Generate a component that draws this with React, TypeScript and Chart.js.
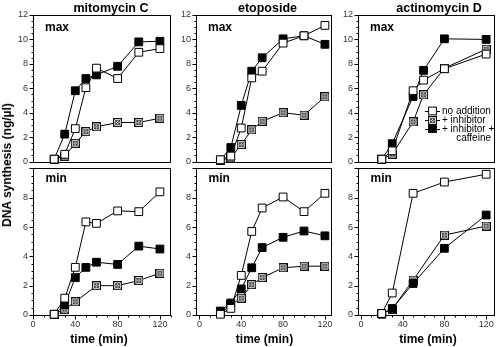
import React, { useEffect, useRef } from 'react';
import { Chart, registerables } from 'chart.js';

Chart.register(...registerables);

const FONT = '"Liberation Sans", Arial, Helvetica, sans-serif';

// ---------- data ----------
const timesMito = [20, 30, 40, 50, 60, 80, 100, 120];
const timesEto = [20, 30, 40, 50, 60, 80, 100, 120];
const timesActMax = [20, 30, 50, 60, 80, 120];
const timesActMin = [20, 30, 50, 80, 120];

const mitoMaxNone = [0.2, 0.6, 2.7, 6.05, 7.65, 6.8, 8.95, 9.25];
const mitoMaxInhib = [0.2, 0.45, 1.5, 2.45, 2.85, 3.2, 3.2, 3.55];
const mitoMaxCaff = [0.2, 2.25, 5.8, 6.8, 7.1, 7.8, 9.8, 9.85];

const mitoMinNone = [0.05, 1.15, 3.25, 6.35, 6.25, 7.1, 7.05, 8.4];
const mitoMinInhib = [0.05, 0.4, 0.9, null, 2.0, 2.0, 2.35, 2.85];
const mitoMinCaff = [0.05, 0.7, 2.55, 3.25, 3.6, 3.45, 4.7, 4.5];

const etoMaxNone = [0.15, 0.45, 2.75, 6.85, 7.4, 9.7, 10.3, 11.15];
const etoMaxInhib = [0.1, 0.3, 1.4, 2.6, 3.3, 4.0, 3.8, 5.3];
const etoMaxCaff = [0.13, 1.15, 4.6, 7.4, 8.5, 10.05, 10.3, 9.6];

const etoMinNone = [0.05, 0.45, 2.7, 5.7, 7.3, 8.05, 7.05, 8.3];
const etoMinInhib = [0.1, 0.7, 1.15, 2.07, 2.55, 3.22, 3.33, 3.33];
const etoMinCaff = [0.27, 0.82, 1.78, 3.22, 4.6, 5.3, 5.73, 5.4];

const actMaxNone = [0.2, 0.88, 5.8, 6.67, 7.6, 8.8];
const actMaxInhib = [0.2, 0.61, 3.25, 5.47, 7.65, 9.2];
const actMaxCaff = [0.2, 1.47, 5.33, 7.47, 10.05, 10.0];

const actMinNone = [0.1, 1.5, 8.3, 9.07, 9.6];
const actMinInhib = [0.1, 0.4, 2.38, 5.45, 6.07];
const actMinCaff = [0.05, 0.45, 2.15, 4.55, 6.82];

const xTickValues = [0, 40, 80, 120];
const yTicksMax = [0, 2, 4, 6, 8, 10, 12];
const yTicksMin = [0, 2, 4, 6, 8];
const columnTitles = ['mitomycin C', 'etoposide', 'actinomycin D'];
const legendLabels = ['no addition', '+ inhibitor', '+ inhibitor +', 'caffeine'];
const yAxisTitle = 'DNA synthesis (ng/\u00b5l)';
const xAxisTitle = 'time (min)';

// ---------- markers ----------
let crossedCache: HTMLCanvasElement | null = null;
function crossedMarker(): HTMLCanvasElement {
  if (crossedCache) return crossedCache;
  const s = 9;
  const c = document.createElement('canvas');
  c.width = s;
  c.height = s;
  const g = c.getContext('2d')!;
  g.fillStyle = '#dcdcdc';
  g.fillRect(0, 0, s, s);
  g.strokeStyle = '#111';
  g.lineWidth = 1;
  g.strokeRect(0.5, 0.5, s - 1, s - 1);
  g.strokeStyle = '#444';
  g.beginPath();
  g.moveTo(1.5, 1.5);
  g.lineTo(s - 1.5, s - 1.5);
  g.moveTo(s - 1.5, 1.5);
  g.lineTo(1.5, s - 1.5);
  g.stroke();
  g.beginPath();
  g.arc(s / 2, s / 2, 2.2, 0, Math.PI * 2);
  g.stroke();
  crossedCache = c;
  return c;
}

type Kind = 'open' | 'inhib' | 'caff';
function makeDataset(xs: number[], ys: (number | null)[], kind: Kind) {
  const data = xs.map((x, i) => ({ x, y: ys[i] }));
  const base: any = {
    data,
    borderColor: '#000',
    borderWidth: 1,
    tension: 0,
    clip: false,
    spanGaps: true,
    pointRadius: 5.5,
    pointHoverRadius: 5.5,
    pointBorderWidth: 1,
    pointBorderColor: '#000',
  };
  if (kind === 'open') return { ...base, pointStyle: 'rect', pointBackgroundColor: '#fff' };
  if (kind === 'caff') return { ...base, pointStyle: 'rect', pointBackgroundColor: '#000' };
  return { ...base, pointStyle: crossedMarker(), pointBackgroundColor: '#dcdcdc' };
}

// ---------- plugins ----------
const frameTicksPlugin = {
  id: 'frameTicks',
  beforeDatasetsDraw(chart: any, _a: any, opts: any) {
    const { ctx, chartArea: a, scales } = chart;
    const l = Math.round(a.left) + 0.5;
    const r = Math.round(a.right) - 0.5;
    const t = Math.round(a.top) + 0.5;
    const b = Math.round(a.bottom) + 0.5;
    ctx.save();
    ctx.strokeStyle = '#000';
    ctx.lineWidth = 1;
    ctx.strokeRect(l, t, r - l, b - t);
    const ys = scales.y;
    ctx.beginPath();
    for (let v = ys.min; v <= ys.max + 1e-6; v += 0.5) {
      const py = Math.round(ys.getPixelForValue(v)) + 0.5;
      const major = Math.abs(v / 2 - Math.round(v / 2)) < 1e-6;
      const len = major ? 4 : 2;
      ctx.moveTo(l - len, py);
      ctx.lineTo(l, py);
    }
    if (opts && opts.xTicks) {
      const xs = scales.x;
      for (let v = 0; v <= xs.max + 1e-6; v += 10) {
        const px = Math.round(xs.getPixelForValue(v)) + 0.5;
        const major = v % 40 === 0;
        const len = major ? 4 : 2;
        ctx.moveTo(px, b);
        ctx.lineTo(px, b + len);
      }
    }
    ctx.stroke();
    ctx.restore();
  },
};

const legendPlugin = {
  id: 'symLegend',
  afterDatasetsDraw(chart: any, _a: any, opts: any) {
    if (!opts || !opts.rows) return;
    const { ctx } = chart;
    const ox = opts.originX;
    ctx.save();
    opts.rows.forEach((row: any) => {
      const y = Math.round(row.y) + 0.5;
      ctx.strokeStyle = '#000';
      ctx.lineWidth = 1;
      ctx.beginPath();
      ctx.moveTo(row.x1 - ox, y);
      ctx.lineTo(row.x2 - ox, y);
      ctx.stroke();
      const cx = row.cx - ox;
      const s = 7.8;
      if (row.kind === 'inhib') {
        const img = crossedMarker();
        ctx.drawImage(img, Math.round(cx - img.width / 2), Math.round(row.y - img.height / 2));
      } else {
        ctx.fillStyle = row.kind === 'open' ? '#fff' : '#000';
        ctx.fillRect(cx - s / 2, row.y - s / 2, s, s);
        ctx.strokeRect(cx - s / 2, row.y - s / 2, s, s);
      }
    });
    ctx.restore();
  },
};

// ---------- panel ----------
type PanelProps = {
  axisX: number;
  right: number;
  isTop: boolean;
  xMin: number;
  xMax: number;
  xs: number[];
  none: (number | null)[];
  inhib: (number | null)[];
  caff: (number | null)[];
  legend?: boolean;
};

const Y_AXIS_W = 30;

function Panel(p: PanelProps) {
  const ref = useRef<HTMLCanvasElement>(null);
  const left = p.axisX - Y_AXIS_W;
  const width = p.right - p.axisX + Y_AXIS_W + 4;
  const top = p.isTop ? 0 : 158;
  const height = p.isTop ? 172 : 189;
  useEffect(() => {
    const yTicks = p.isTop ? yTicksMax : yTicksMin;
    const chart = new Chart(ref.current!, {
      type: 'line',
      data: {
        datasets: [
          makeDataset(p.xs, p.none, 'open'),
          makeDataset(p.xs, p.caff, 'caff'),
          makeDataset(p.xs, p.inhib, 'inhib'),
        ],
      },
      options: {
        responsive: false,
        animation: false,
        events: [],
        layout: { padding: { left: 0, right: 4, top: p.isTop ? 15 : 7, bottom: p.isTop ? 7 : 0 } },
        plugins: {
          legend: { display: false },
          tooltip: { enabled: false },
          frameTicks: { xTicks: !p.isTop },
          symLegend: p.legend
            ? {
                originX: left,
                rows: [
                  { x1: 425, x2: 440, cx: 432.5, y: 111, kind: 'open' },
                  { x1: 425, x2: 440, cx: 432.5, y: 120, kind: 'inhib' },
                  { x1: 425, x2: 440, cx: 432.5, y: 128.5, kind: 'caff' },
                ],
              }
            : {},
        } as any,
        scales: {
          x: {
            type: 'linear',
            min: p.xMin,
            max: p.xMax,
            display: !p.isTop,
            grid: { display: false, drawTicks: false },
            border: { display: false },
            ticks: { font: { family: FONT, size: 9 }, color: '#333', padding: 4, maxRotation: 0, autoSkip: false },
            afterBuildTicks: (s: any) => {
              s.ticks = xTickValues.map((v) => ({ value: v }));
            },
            afterFit: (s: any) => {
              s.height = p.isTop ? 0 : 32;
            },
          },
          y: {
            type: 'linear',
            min: 0,
            max: p.isTop ? 12 : 10,
            grid: { display: false, drawTicks: false },
            border: { display: false },
            ticks: { font: { family: FONT, size: 9 }, color: '#333', padding: 5, autoSkip: false },
            afterBuildTicks: (s: any) => {
              s.ticks = yTicks.map((v) => ({ value: v }));
            },
            afterFit: (s: any) => {
              s.width = Y_AXIS_W;
            },
          },
        },
      } as any,
      plugins: [frameTicksPlugin, legendPlugin],
    });
    return () => chart.destroy();
  }, []);
  return (
    <canvas
      ref={ref}
      width={width}
      height={height}
      style={{ position: 'absolute', left, top, width, height }}
    />
  );
}

type TxtProps = {
  x: number;
  y: number;
  size: number;
  bold?: boolean;
  anchor?: 'start' | 'middle' | 'end';
  rotate?: boolean;
  children: React.ReactNode;
};
function Txt({ x, y, size, bold, anchor = 'middle', rotate, children }: TxtProps) {
  const tx = anchor === 'middle' ? '-50%' : anchor === 'end' ? '-100%' : '0';
  return (
    <div
      style={{
        position: 'absolute',
        left: x,
        top: y,
        transform: `translate(${tx}, -50%)${rotate ? ' rotate(-90deg)' : ''}`,
        fontSize: size,
        fontWeight: bold ? 'bold' : 'normal',
        lineHeight: 1,
        whiteSpace: 'nowrap',
        color: '#000',
        fontFamily: FONT,
      }}
    >
      {children}
    </div>
  );
}

const columns = [
  { axisX: 33, right: 173, xMin: 0, xMax: 130, titleX: 111, timeX: 99 },
  { axisX: 196, right: 334, xMin: -3.3, xMax: 126.3, titleX: 267.5, timeX: 264.5 },
  { axisX: 358, right: 497, xMin: -2.8, xMax: 128, titleX: 439, timeX: 428 },
];

export default function App() {
  const seriesMax = [
    { xs: timesMito, none: mitoMaxNone, inhib: mitoMaxInhib, caff: mitoMaxCaff },
    { xs: timesEto, none: etoMaxNone, inhib: etoMaxInhib, caff: etoMaxCaff },
    { xs: timesActMax, none: actMaxNone, inhib: actMaxInhib, caff: actMaxCaff },
  ];
  const seriesMin = [
    { xs: timesMito, none: mitoMinNone, inhib: mitoMinInhib, caff: mitoMinCaff },
    { xs: timesEto, none: etoMinNone, inhib: etoMinInhib, caff: etoMinCaff },
    { xs: timesActMin, none: actMinNone, inhib: actMinInhib, caff: actMinCaff },
  ];
  return (
    <div style={{ position: 'absolute', left: 0, top: 0, width: 500, height: 347, background: '#fff', overflow: 'hidden' }}>
      {columns.map((c, i) => (
        <Panel key={'max' + i} axisX={c.axisX} right={c.right} isTop xMin={c.xMin} xMax={c.xMax} {...seriesMax[i]} legend={i === 2} />
      ))}
      {columns.map((c, i) => (
        <Panel key={'min' + i} axisX={c.axisX} right={c.right} isTop={false} xMin={c.xMin} xMax={c.xMax} {...seriesMin[i]} />
      ))}
      {columns.map((c, i) => (
        <Txt key={'t' + i} x={c.titleX} y={8} size={12.5} bold>
          {columnTitles[i]}
        </Txt>
      ))}
      {columns.map((c, i) => (
        <Txt key={'mx' + i} x={c.axisX + 12} y={26.5} size={12} bold anchor="start">
          max
        </Txt>
      ))}
      {columns.map((c, i) => (
        <Txt key={'mn' + i} x={c.axisX + 12.5} y={177.5} size={12} bold anchor="start">
          min
        </Txt>
      ))}
      {columns.map((c, i) => (
        <Txt key={'tm' + i} x={c.timeX} y={339} size={12} bold>
          {xAxisTitle}
        </Txt>
      ))}
      <Txt x={6.5} y={165} size={12} bold rotate>
        {yAxisTitle}
      </Txt>
      <Txt x={442} y={111} size={10} anchor="start">{legendLabels[0]}</Txt>
      <Txt x={442} y={120} size={10} anchor="start">{legendLabels[1]}</Txt>
      <Txt x={442} y={128.5} size={10} anchor="start">{legendLabels[2]}</Txt>
      <Txt x={491} y={137.5} size={10} anchor="end">{legendLabels[3]}</Txt>
    </div>
  );
}
